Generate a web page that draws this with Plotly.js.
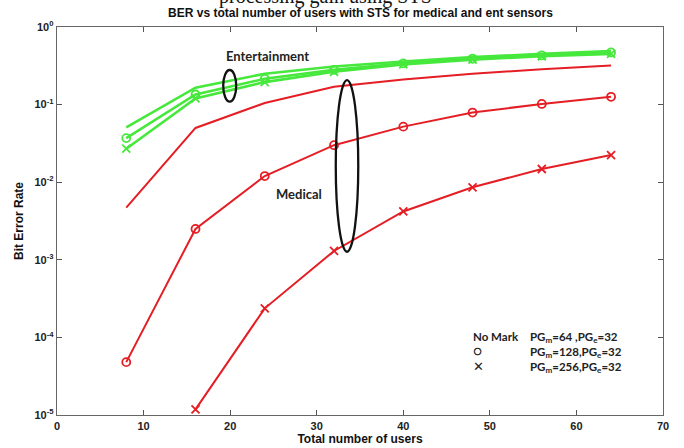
<!DOCTYPE html>
<html>
<head>
<meta charset="utf-8">
<script src="https://cdn.plot.ly/plotly-3.0.1.min.js"></script>
<style>html,body{margin:0;padding:0;background:#fff;}#chart{width:684px;height:448px;}</style>
</head>
<body>
<div id="chart"></div>
<script>
// Number of users
const users = [8, 16, 24, 32, 40, 48, 56, 64];
// Medical sensors (red)
const medPG64  = [0.0047, 0.050, 0.105, 0.17, 0.21, 0.25, 0.285, 0.32];
const medPG128 = [4.8e-5, 0.0025, 0.012, 0.030, 0.052, 0.079, 0.102, 0.126];
const usersPG256 = [16, 24, 32, 40, 48, 56, 64];
const medPG256 = [1.18e-5, 2.37e-4, 0.0013, 0.0042, 0.0086, 0.0148, 0.0224];
// Entertainment sensors (green)
const entPG64  = [0.051, 0.165, 0.25, 0.31, 0.36, 0.41, 0.45, 0.49];
const entPG128 = [0.037, 0.135, 0.215, 0.28, 0.34, 0.39, 0.43, 0.47];
const entPG256 = [0.027, 0.12, 0.195, 0.265, 0.33, 0.38, 0.42, 0.45];
// Y tick labels
const yTickVals = [1e-5, 1e-4, 1e-3, 1e-2, 1e-1, 1];
const yTickText = ['10<sup>-5</sup>', '10<sup>-4</sup>', '10<sup>-3</sup>', '10<sup>-2</sup>', '10<sup>-1</sup>', '10<sup>0</sup>'];
// Minor tick mantissas on the log axis
const minorDigits = [2, 3, 4, 5, 6, 7, 8, 9];
const minorVals = [];
yTickVals.slice(0, -1).forEach(function (d) { minorDigits.forEach(function (m) { minorVals.push(d * m); }); });

const red = 'rgb(228,30,36)';
const green = 'rgb(70,232,60)';

function tr(x, y, color, marker, w) {
  const t = {x: x, y: y, type: 'scatter', mode: marker ? 'lines+markers' : 'lines',
    line: {color: color, width: w}, showlegend: false, hoverinfo: 'skip'};
  if (marker) t.marker = {symbol: marker, size: 8, color: color, line: {color: color, width: 1.8}};
  return t;
}

const data = [
  tr(users, medPG64, red, null, 2),
  tr(users, medPG128, red, 'circle-open', 2),
  tr(usersPG256, medPG256, red, 'x-thin-open', 2),
  tr(users, entPG64, green, null, 2.6),
  tr(users, entPG128, green, 'circle-open', 2.6),
  tr(users, entPG256, green, 'x-thin-open', 2.6)
];

const lbl = {family: 'Lato, "DejaVu Sans", sans-serif', size: 13, color: '#222'};
const lg = {family: 'Lato, "DejaVu Sans", sans-serif', size: 11.5, color: '#222'};

const layout = {
  width: 684, height: 448,
  margin: {l: 57, r: 21, t: 27, b: 33},
  paper_bgcolor: '#fff', plot_bgcolor: '#fff',
  title: {text: '<b>BER vs total number of users with STS for medical and ent sensors</b>',
    font: {family: 'Arial, "Liberation Sans", sans-serif', size: 12, color: '#111'},
    x: 0.527, xanchor: 'center', y: 0.971, yanchor: 'middle'},
  xaxis: {range: [0, 70], dtick: 10, tick0: 0, ticks: 'inside', ticklen: 5, tickcolor: '#555',
    showline: true, linecolor: '#666', linewidth: 1.3, mirror: 'ticks', showgrid: false, zeroline: false,
    tickfont: {family: 'Arial, "Liberation Sans", sans-serif', size: 11, color: '#222', weight: 'bold'},
    title: {text: '<b>Total number of users</b>', standoff: 2,
      font: {family: 'Arial, "Liberation Sans", sans-serif', size: 12, color: '#111'}}},
  yaxis: {type: 'log', range: [-5, 0], tickmode: 'array', tickvals: yTickVals, ticktext: yTickText,
    ticks: 'inside', ticklen: 5,
    tickcolor: '#555', showline: true, linecolor: '#666', linewidth: 1.3, mirror: 'ticks',
    showgrid: false, zeroline: false,
    tickfont: {family: 'Arial, "Liberation Sans", sans-serif', size: 11, color: '#222', weight: 'bold'},
    title: {text: '<b>Bit Error Rate</b>', standoff: 8,
      font: {family: 'Arial, "Liberation Sans", sans-serif', size: 12, color: '#111'}}},
  yaxis2: {type: 'log', range: [-5, 0], overlaying: 'y', anchor: 'x', side: 'left',
    tickmode: 'array', tickvals: minorVals, ticks: 'inside', ticklen: 3, tickwidth: 1, tickcolor: '#666',
    showticklabels: false, showline: true, linecolor: '#666', linewidth: 1.3, mirror: 'ticks',
    showgrid: false, zeroline: false},
  shapes: [
    {type: 'circle', xref: 'x', yref: 'y', x0: 19.2, x1: 20.7, y0: 0.109, y1: 0.279,
      line: {color: '#111', width: 2.3}},
    {type: 'circle', xref: 'x', yref: 'y', x0: 32.2, x1: 34.8, y0: 0.00127, y1: 0.207,
      line: {color: '#111', width: 2.3}}
  ],
  annotations: [
    {text: 'processing gain using STS', xref: 'paper', yref: 'paper', x: 0.264, y: 1, xanchor: 'left',
      yanchor: 'bottom', yshift: 17, showarrow: false,
      font: {family: '"Liberation Serif", "DejaVu Serif", serif', size: 20, color: '#111'}},
    {text: '<b>Entertainment</b>', xref: 'x', yref: 'y', x: 24.3, y: -0.374, showarrow: false, font: lbl},
    {text: '<b>Medical</b>', xref: 'x', yref: 'y', x: 27.95, y: -2.156, showarrow: false, font: lbl},
    {text: '<b>No Mark</b><br><span style="font-size:14px">○</span><br><span style="font-size:13px">✕</span>',
      xref: 'paper', yref: 'paper', x: (471 - 57) / 606, y: (415 - 352) / 388,
      xanchor: 'left', yanchor: 'middle', align: 'left', showarrow: false, font: lg},
    {text: '<b>PG<sub>m</sub>=64 ,PG<sub>e</sub>=32<br>PG<sub>m</sub>=128,PG<sub>e</sub>=32<br>PG<sub>m</sub>=256,PG<sub>e</sub>=32</b>',
      xref: 'paper', yref: 'paper', x: (528 - 57) / 606, y: (415 - 352) / 388,
      xanchor: 'left', yanchor: 'middle', align: 'left', showarrow: false, font: lg}
  ]
};

Plotly.newPlot('chart', data, layout, {staticPlot: true, displayModeBar: false});
</script>
</body>
</html>
